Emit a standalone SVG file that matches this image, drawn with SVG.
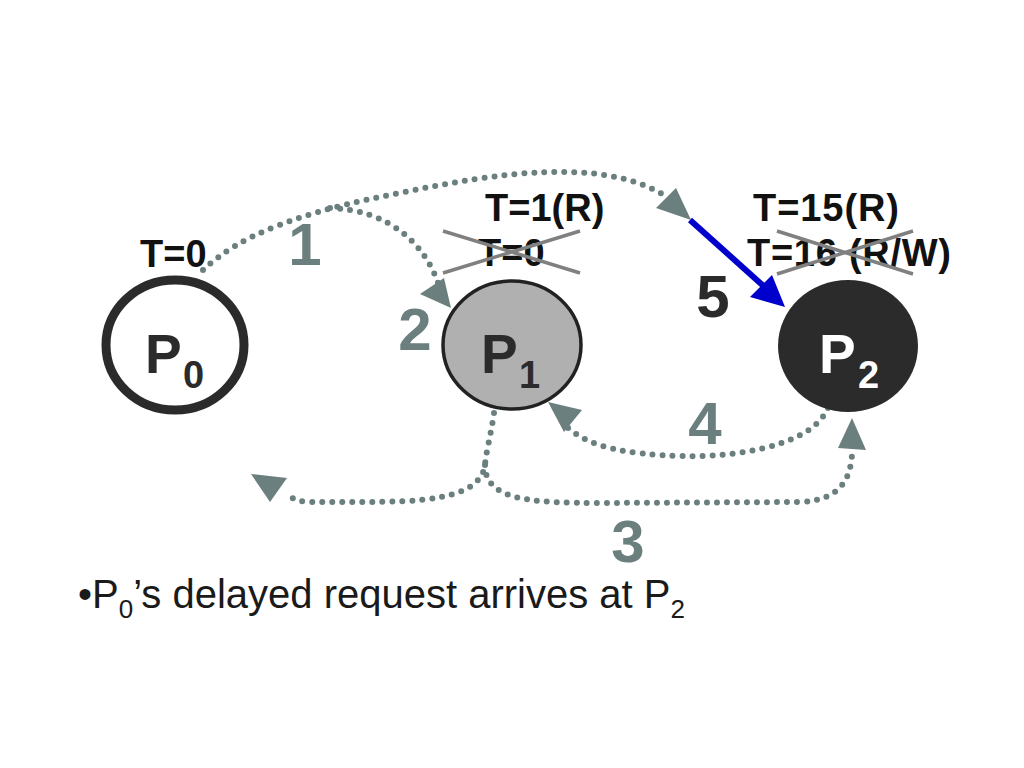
<svg xmlns="http://www.w3.org/2000/svg" width="1024" height="768" viewBox="0 0 1024 768">
<style>
.lbl{font-family:"Liberation Sans",Arial,sans-serif;font-weight:bold;font-size:38px;fill:#111}
.num{font-family:"Liberation Sans",Arial,sans-serif;font-weight:bold;font-size:60px;fill:#6b7f7f;text-anchor:middle}
.pn{font-family:"Liberation Sans",Arial,sans-serif;font-weight:bold;font-size:55px}
.ps{font-family:"Liberation Sans",Arial,sans-serif;font-weight:bold;font-size:38px}
.dot{fill:none;stroke:#6b7f7f;stroke-width:6;stroke-linecap:round;stroke-dasharray:0 10}
.ah{fill:#6b7f7f}
.x{stroke:#808080;stroke-width:3.5}
</style>
<rect width="1024" height="768" fill="#fff"/>
<g id="connectors">
<path class="dot" d="M 203 270 C 240 235, 300 212, 400 193 C 500 172, 600 158, 662 194"/>
<polygon class="ah" points="656,208 676,188 691,220"/>
<path class="dot" d="M 330 208 C 390 210, 425 245, 438 283"/>
<polygon class="ah" points="420,294 444,278 451,308"/>
<path class="dot" d="M 494 413 C 490 440, 486 452, 485 465 C 480 500, 420 502, 360 502 L 305 502 C 295 500, 290 497, 285 494"/>
<polygon class="ah" points="251,474 287,478 270,502"/>
<path class="dot" d="M 485 465 C 485 500, 530 503, 600 503 L 800 502 C 840 500, 850 480, 852 455"/>
<polygon class="ah" points="852,418 838,448 866,450"/>
<path class="dot" d="M 828 408 C 810 450, 720 460, 660 455 C 610 452, 585 442, 568 428"/>
<polygon class="ah" points="548,402 582,410 564,432"/>
<line x1="690" y1="220" x2="768" y2="290" stroke="#0000cc" stroke-width="6"/>
<polygon points="750,297 772,275 785,307" fill="#0000cc"/>
</g>
<g id="P0">
<ellipse cx="175" cy="345" rx="69" ry="65" fill="#fff" stroke="#2b2b2b" stroke-width="9"/>
<text class="pn" x="145" y="373" fill="#2b2b2b">P</text><text class="ps" x="183" y="388" fill="#2b2b2b">0</text>
</g>
<g id="P1">
<ellipse cx="512" cy="345" rx="69" ry="64" fill="#b0b0b0" stroke="#222" stroke-width="3.5"/>
<text class="pn" x="481" y="373" fill="#2b2b2b">P</text><text class="ps" x="519" y="388" fill="#2b2b2b">1</text>
</g>
<g id="P2">
<ellipse cx="848" cy="346" rx="70" ry="66" fill="#2b2b2b"/>
<text class="pn" x="819" y="373" fill="#fff">P</text><text class="ps" x="858" y="388" fill="#fff">2</text>
</g>
<g id="labels">
<text class="lbl" x="140" y="267">T=0</text>
<text class="lbl" x="485" y="221">T=1(R)</text>
<text class="lbl" x="478" y="266">T=0</text>
<line class="x" x1="443" y1="231" x2="580" y2="273"/>
<line class="x" x1="443" y1="273" x2="580" y2="231"/>
<text class="lbl" x="753" y="221" textLength="146">T=15(R)</text>
<text class="lbl" x="747" y="266" textLength="204">T=16 (R/W)</text>
<line class="x" x1="777" y1="231" x2="913" y2="274"/>
<line class="x" x1="777" y1="274" x2="913" y2="231"/>
<text class="num" x="305" y="265">1</text>
<text class="num" x="415" y="350">2</text>
<text class="num" x="628" y="562">3</text>
<text class="num" x="705" y="444">4</text>
<text class="num" x="713" y="317" style="fill:#2b2b2b">5</text>
</g>
<text x="78" y="608" font-family="'Liberation Sans',Arial,sans-serif" font-size="40" fill="#1a1a1a">•P<tspan font-size="26" dy="10">0</tspan><tspan dy="-10">’s delayed request arrives at P</tspan><tspan font-size="26" dy="10">2</tspan></text>
</svg>
